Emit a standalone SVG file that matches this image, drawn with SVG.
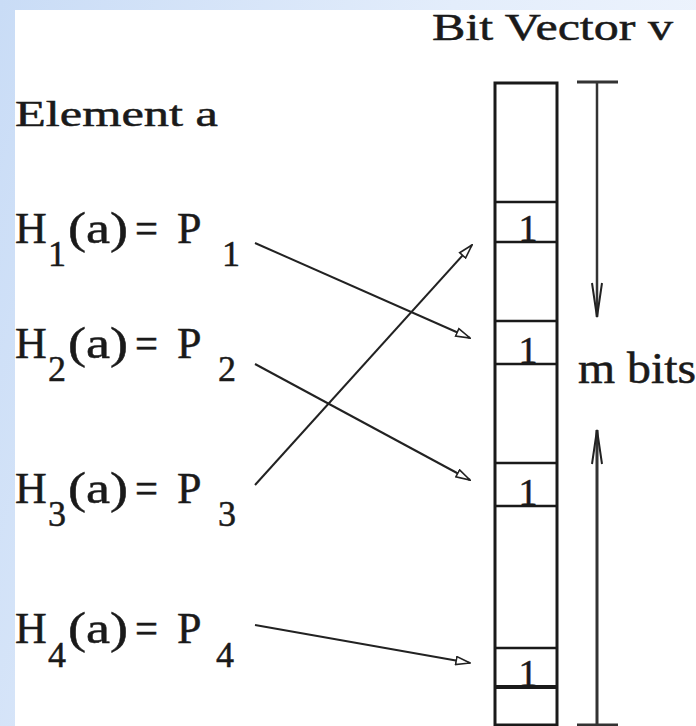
<svg xmlns="http://www.w3.org/2000/svg" width="696" height="726" viewBox="0 0 696 726">
  <defs>
    <linearGradient id="bg" x1="0" y1="0" x2="1" y2="0.3">
      <stop offset="0" stop-color="#c9dcf6"/>
      <stop offset="0.6" stop-color="#e3edfb"/>
      <stop offset="1" stop-color="#eef4fd"/>
    </linearGradient>
    <marker id="hollow" viewBox="0 0 16 10" refX="15" refY="5" markerWidth="16" markerHeight="10" markerUnits="userSpaceOnUse" orient="auto">
      <path d="M1,1 L15,5 L1,9 Z" fill="#ffffff" stroke="#222" stroke-width="1.6" stroke-linejoin="miter"/>
    </marker>
    <marker id="vee" viewBox="0 0 36 12" refX="35" refY="6" markerWidth="36" markerHeight="12" markerUnits="userSpaceOnUse" orient="auto">
      <path d="M1,1 L35,6 L1,11" fill="none" stroke="#222" stroke-width="2"/>
    </marker>
  </defs>
  <style>
    text { font-family: "Liberation Serif", "Times New Roman", serif; fill: #1a1a1a; stroke: #1a1a1a; stroke-width: 0.5; }
    .lbl { font-size: 44px; }
    .sub { font-size: 36px; }
    .bit { font-size: 38px; text-anchor: middle; }
    .box { fill: #ffffff; stroke: #1a1a1a; stroke-width: 3; }
    .cell { stroke: #1a1a1a; stroke-width: 2.5; }
    .conn { stroke: #222; stroke-width: 2; fill: none; marker-end: url(#hollow); }
    .dim { stroke: #333; stroke-width: 3; fill: none; }
  </style>

  <rect x="0" y="0" width="696" height="726" fill="url(#bg)"/>
  <rect x="15" y="10" width="681" height="716" fill="#ffffff"/>

  <g id="title">
    <text x="432" y="40" style="font-size:38px" textLength="241" lengthAdjust="spacingAndGlyphs">Bit Vector v</text>
  </g>

  <g id="element">
    <text x="15" y="126" style="font-size:36px" textLength="203" lengthAdjust="spacingAndGlyphs">Element  a</text>
  </g>

  <g id="h1">
    <text class="lbl" x="15" y="243">H</text>
    <text class="sub" x="48" y="266">1</text>
    <text class="lbl" x="68" y="243" textLength="60" lengthAdjust="spacingAndGlyphs">(a)</text>
    <text class="lbl" x="135" y="243" textLength="23" lengthAdjust="spacingAndGlyphs">=</text>
    <text class="lbl" x="177" y="243">P</text>
    <text class="sub" x="222" y="266">1</text>
  </g>

  <g id="h2">
    <text class="lbl" x="15" y="358">H</text>
    <text class="sub" x="48" y="381">2</text>
    <text class="lbl" x="68" y="358" textLength="60" lengthAdjust="spacingAndGlyphs">(a)</text>
    <text class="lbl" x="135" y="358" textLength="23" lengthAdjust="spacingAndGlyphs">=</text>
    <text class="lbl" x="177" y="358">P</text>
    <text class="sub" x="218" y="381">2</text>
  </g>

  <g id="h3">
    <text class="lbl" x="15" y="503">H</text>
    <text class="sub" x="48" y="526">3</text>
    <text class="lbl" x="68" y="503" textLength="60" lengthAdjust="spacingAndGlyphs">(a)</text>
    <text class="lbl" x="135" y="503" textLength="23" lengthAdjust="spacingAndGlyphs">=</text>
    <text class="lbl" x="177" y="503">P</text>
    <text class="sub" x="218" y="526">3</text>
  </g>

  <g id="h4">
    <text class="lbl" x="15" y="643">H</text>
    <text class="sub" x="48" y="667">4</text>
    <text class="lbl" x="68" y="643" textLength="60" lengthAdjust="spacingAndGlyphs">(a)</text>
    <text class="lbl" x="135" y="643" textLength="23" lengthAdjust="spacingAndGlyphs">=</text>
    <text class="lbl" x="177" y="643">P</text>
    <text class="sub" x="216" y="667">4</text>
  </g>

  <g id="bitvector">
    <rect class="box" x="495" y="83" width="62" height="642"/>
    <line class="cell" x1="495" y1="202" x2="557" y2="202"/>
    <line class="cell" x1="495" y1="242" x2="557" y2="242"/>
    <line class="cell" x1="495" y1="321" x2="557" y2="321"/>
    <line class="cell" x1="495" y1="364" x2="557" y2="364"/>
    <line class="cell" x1="495" y1="463" x2="557" y2="463"/>
    <line class="cell" x1="495" y1="506" x2="557" y2="506"/>
    <line class="cell" x1="495" y1="648" x2="557" y2="648"/>
    <line class="cell" x1="495" y1="687" x2="557" y2="687" style="stroke-width:4"/>
    <text class="bit" x="528" y="241">1</text>
    <text class="bit" x="528" y="363">1</text>
    <text class="bit" x="528" y="505">1</text>
    <text class="bit" x="528" y="686">1</text>
  </g>

  <g id="mbits">
    <line class="dim" x1="577" y1="82" x2="618" y2="82"/>
    <line class="dim" x1="597" y1="82" x2="597" y2="317" marker-end="url(#vee)" style="stroke-width:2.5"/>
    <line class="dim" x1="577" y1="725" x2="618" y2="725"/>
    <line class="dim" x1="597" y1="725" x2="597" y2="430" marker-end="url(#vee)" style="stroke-width:3"/>
    <text x="578" y="383" style="font-size:44px" textLength="118" lengthAdjust="spacingAndGlyphs">m bits</text>
  </g>

  <g id="connectors">
    <line class="conn" x1="255" y1="243" x2="470" y2="338"/>
    <line class="conn" x1="255" y1="364" x2="470" y2="480"/>
    <line class="conn" x1="255" y1="485" x2="472" y2="245"/>
    <line class="conn" x1="255" y1="625" x2="470" y2="663"/>
  </g>
</svg>
